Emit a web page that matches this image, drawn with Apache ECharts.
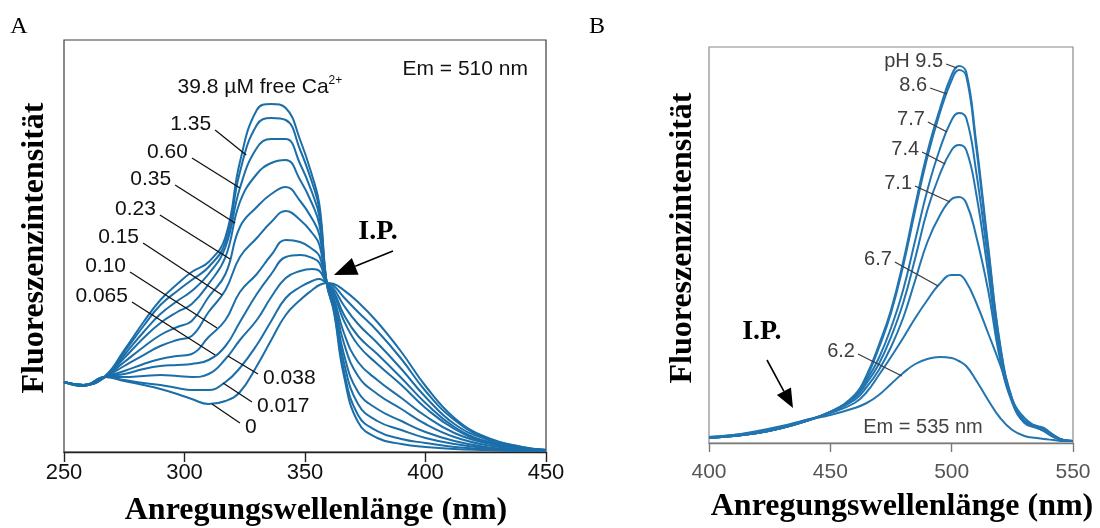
<!DOCTYPE html>
<html>
<head>
<meta charset="utf-8">
<title>Fura-2 Anregungsspektren / SNARF Emissionsspektren</title>
<script src="https://cdn.jsdelivr.net/npm/echarts@6/dist/echarts.min.js"></script>
<style>
  html, body { margin: 0; padding: 0; background: #fff; }
  #chart { width: 1100px; height: 528px; }
</style>
</head>
<body>
<div id="chart"></div>
<script>
// ---------- Panel A: excitation spectra at increasing free Ca2+ (Em = 510 nm) ----------
const lamA = [250, 258, 267, 275, 283, 290, 297, 303, 310, 317, 323, 330, 336, 342, 348, 353, 356, 359, 362, 366, 372, 380, 390, 400, 412, 425, 440, 450];
const ca0    = [70, 66, 75, 71, 67, 63, 58, 53, 48, 51, 60, 86, 112, 137, 152, 162, 167, 169, 168, 162, 150, 130, 100, 66, 34, 15, 5, 2];
const ca0017 = [70, 66, 75, 72, 69, 67, 64, 62, 62, 70, 84, 107, 131, 154, 165, 171, 173, 169, 166, 155, 140, 121, 93, 61, 32, 14, 5, 2];
const ca0038 = [70, 66, 75, 75, 76, 77, 76, 75, 78, 93, 112, 132, 155, 174, 181, 183, 181, 169, 163, 147, 128, 109, 83, 55, 28, 13, 4, 2];
const ca0065 = [70, 67, 75, 78, 83, 86, 87, 88, 92, 106, 130, 158, 178, 195, 197, 194, 189, 169, 160, 138, 116, 98, 74, 49, 25, 11, 4, 2];
const ca010  = [70, 67, 75, 81, 88, 93, 96, 98, 115, 132, 160, 178, 197, 212, 210, 203, 196, 169, 158, 132, 107, 88, 67, 44, 23, 10, 4, 2];
const ca015  = [70, 67, 75, 86, 97, 106, 112, 116, 140, 162, 195, 214, 230, 241, 232, 219, 207, 169, 154, 120, 90, 72, 54, 36, 19, 9, 3, 2];
const ca023  = [70, 67, 75, 90, 105, 117, 125, 131, 155, 178, 225, 245, 258, 265, 251, 233, 217, 169, 151, 110, 76, 58, 43, 28, 15, 7, 3, 1];
const ca035  = [70, 67, 75, 94, 114, 129, 140, 148, 168, 195, 250, 278, 289, 292, 272, 248, 227, 169, 147, 99, 60, 43, 31, 20, 11, 5, 2, 1];
const ca060  = [70, 67, 75, 97, 120, 138, 151, 161, 178, 205, 264, 304, 313, 313, 288, 259, 235, 169, 144, 91, 48, 31, 22, 14, 8, 4, 2, 1];
const ca135  = [70, 67, 75, 100, 126, 147, 161, 172, 185, 210, 280, 327, 334, 332, 302, 269, 242, 169, 142, 83, 37, 21, 13, 9, 5, 3, 1, 1];
const ca398  = [70, 67, 76, 102, 130, 152, 168, 180, 190, 215, 290, 342, 348, 344, 312, 276, 247, 169, 140, 78, 30, 14, 8, 5, 3, 2, 1, 1];
const seriesA = [ca0, ca0017, ca0038, ca0065, ca010, ca015, ca023, ca035, ca060, ca135, ca398];
const namesA  = ['0', '0.017', '0.038', '0.065', '0.10', '0.15', '0.23', '0.35', '0.60', '1.35', '39.8'];
const ticksA  = [250, 300, 350, 400, 450];

// ---------- Panel B: spectra at different pH (Em = 535 nm) ----------
const lamB = [400, 410, 420, 430, 440, 450, 460, 465, 470, 475, 480, 485, 490, 495, 500, 503, 506, 510, 515, 520, 525, 530, 535, 538, 542, 546, 550];
const ph95 = [5, 7, 10, 15, 22, 31, 48, 68, 98, 133, 181, 238, 291, 333, 368, 377, 371, 303, 198, 98, 44, 22, 17, 15, 8, 3, 2];
const ph86 = [5, 7, 10, 15, 22, 31, 47, 66, 95, 130, 177, 233, 286, 329, 363, 373, 367, 298, 195, 96, 43, 22, 17, 14, 8, 3, 2];
const ph77 = [5, 7, 10, 15, 22, 31, 46, 63, 85, 115, 153, 203, 253, 293, 323, 330, 325, 273, 183, 91, 42, 21, 16, 14, 7, 3, 2];
const ph74 = [5, 7, 10, 15, 22, 31, 45, 60, 79, 106, 140, 185, 233, 268, 293, 298, 293, 251, 171, 88, 41, 21, 16, 13, 7, 3, 2];
const ph71 = [5, 7, 10, 15, 22, 31, 43, 56, 73, 96, 125, 163, 201, 227, 244, 246, 240, 208, 153, 83, 40, 20, 15, 12, 6, 3, 2];
const ph67 = [6, 8, 11, 16, 23, 30, 40, 51, 68, 86, 105, 125, 143, 159, 168, 168, 161, 141, 110, 78, 43, 25, 16, 12, 6, 3, 2];
const ph62 = [6, 8, 12, 17, 23, 28, 35, 40, 48, 59, 70, 79, 84, 86, 85, 82, 77, 63, 43, 25, 13, 7, 5, 4, 3, 2, 2];
const seriesB = [ph95, ph86, ph77, ph74, ph71, ph67, ph62];
const namesB  = ['pH 9.5', '8.6', '7.7', '7.4', '7.1', '6.7', '6.2'];
const ticksB  = [400, 450, 500, 550];

// ---------- styling ----------
const BLUE = '#1c6ea9';
const SANS = '"Liberation Sans", Arial, Helvetica, sans-serif';
const SERIF = '"Liberation Serif", "Times New Roman", serif';

// leader lines: from label end to the curve [wavelength, intensity]
const leadersA = [
  { t: '1.35',  from: [312.7, 322], to: [325.6, 297], side: 'left' },
  { t: '0.60',  from: [303.1, 294], to: [323.0, 264], side: 'left' },
  { t: '0.35',  from: [296.1, 267], to: [321.0, 229], side: 'left' },
  { t: '0.23',  from: [289.8, 237], to: [318.9, 193], side: 'left' },
  { t: '0.15',  from: [282.8, 209], to: [315.6, 157], side: 'left' },
  { t: '0.10',  from: [277.4, 180], to: [313.5, 124], side: 'left' },
  { t: '0.065', from: [278.2, 150], to: [312.7, 97],  side: 'left' },
  { t: '0.038', from: [330.5, 78],  to: [318.0, 96],  side: 'right' },
  { t: '0.017', from: [328.0, 50],  to: [316.0, 69],  side: 'right' },
  { t: '0',     from: [323.0, 29],  to: [311.4, 48],  side: 'right' }
];
const leadersB = [
  { t: 'pH 9.5', from: [497.7, 379], to: [502.2, 375] },
  { t: '8.6',    from: [491.1, 355], to: [498.1, 349] },
  { t: '7.7',    from: [490.2, 321], to: [498.1, 311] },
  { t: '7.4',    from: [487.8, 291], to: [497.3, 279] },
  { t: '7.1',    from: [484.9, 257], to: [499.3, 241] },
  { t: '6.7',    from: [476.6, 181], to: [494.4, 157] },
  { t: '6.2',    from: [461.4, 89],  to: [479.5, 67] }
];

function curveSeries(lams, vals, name, gi, color) {
  return {
    type: 'line', name: name, xAxisIndex: gi, yAxisIndex: gi,
    data: lams.map((x, i) => [x, vals[i]]),
    showSymbol: false, smooth: 0.45, silent: true,
    lineStyle: { color: color, width: 2 }, z: 2
  };
}

const series = [];
seriesA.forEach((v, i) => series.push(curveSeries(lamA, v, namesA[i], 0, BLUE)));
seriesB.forEach((v, i) => series.push(curveSeries(lamB, v, namesB[i], 1, '#2275b0')));
series.push({
  type: 'lines', coordinateSystem: 'cartesian2d', xAxisIndex: 0, yAxisIndex: 0, silent: true, z: 3,
  lineStyle: { color: '#111', width: 1.3, opacity: 1 },
  data: leadersA.map(l => ({ coords: [l.from, l.to] }))
});
series.push({
  type: 'lines', coordinateSystem: 'cartesian2d', xAxisIndex: 1, yAxisIndex: 1, silent: true, z: 3,
  lineStyle: { color: '#3a3a3a', width: 1.3, opacity: 1 },
  data: leadersB.map(l => ({ coords: [l.from, l.to] }))
});

function xAxisCfg(gi, ticks, color, labelColor, fontSize, margin, tickLen) {
  return {
    type: 'value', gridIndex: gi,
    min: ticks[0], max: ticks[ticks.length - 1], interval: ticks[1] - ticks[0],
    axisLine: { show: true, lineStyle: { color: color, width: 1.4 } },
    axisTick: { show: true, inside: false, length: tickLen, lineStyle: { color: color, width: 1.4 } },
    axisLabel: { color: labelColor, fontFamily: SANS, fontSize: fontSize, margin: margin },
    splitLine: { show: false }
  };
}

const option = {
  animation: false,
  backgroundColor: '#ffffff',
  grid: [
    { left: 64, top: 40, width: 482, height: 412, show: true, borderColor: '#3c3c3c', borderWidth: 1.2 },
    { left: 709, top: 47, width: 364, height: 396, show: true, borderColor: '#8a8a8a', borderWidth: 1.2 }
  ],
  xAxis: [
    xAxisCfg(0, ticksA, '#222', '#111', 22, 10, 10),
    xAxisCfg(1, ticksB, '#7a7a7a', '#555', 21, 19, 9)
  ],
  yAxis: [
    { type: 'value', gridIndex: 0, min: 0, max: 412, show: false, splitLine: { show: false } },
    { type: 'value', gridIndex: 1, min: 0, max: 396, show: false, splitLine: { show: false } }
  ],
  series: series
};

const chart = echarts.init(document.getElementById('chart'), null, { renderer: 'canvas' });
chart.setOption(option);

// ---------- annotations placed through the axes ----------
const P = (g, p) => chart.convertToPixel({ gridIndex: g }, p);

function text(x, y, str, font, color, align, extra) {
  return Object.assign({
    type: 'text', x: x, y: y, silent: true, z: 10,
    style: { text: str, font: font, fill: color, align: align || 'center', verticalAlign: 'middle' }
  }, extra || {});
}

function arrow(g, from, to, headLen, headW, lw) {
  const a = P(g, from), b = P(g, to);
  const dx = b[0] - a[0], dy = b[1] - a[1], L = Math.hypot(dx, dy);
  const ux = dx / L, uy = dy / L;
  const bx = b[0] - ux * headLen, by = b[1] - uy * headLen;
  const nx = -uy * headW / 2, ny = ux * headW / 2;
  return [
    { type: 'line', silent: true, z: 10, shape: { x1: a[0], y1: a[1], x2: bx, y2: by }, style: { stroke: '#000', lineWidth: lw } },
    { type: 'polygon', silent: true, z: 10, shape: { points: [[b[0], b[1]], [bx + nx, by + ny], [bx - nx, by - ny]] }, style: { fill: '#000' } }
  ];
}

const g = [];
const fA = '21px ' + SANS, fB = '20px ' + SANS;
const titleFont = 'bold 32px ' + SERIF;

// panel letters
g.push(text(19, 27, 'A', '24px ' + SERIF, '#000'));
g.push(text(597, 27, 'B', '24px ' + SERIF, '#000'));

// axis titles
g.push(text(316, 511, 'Anregungswellenlänge (nm)', titleFont, '#000'));
g.push(text(902, 507, 'Anregungswellenlänge (nm)', titleFont, '#000'));
g.push(text(35, 248, 'Fluoreszenzintensität', titleFont, '#000', 'center', { rotation: Math.PI / 2 }));
g.push(text(683, 238, 'Fluoreszenzintensität', titleFont, '#000', 'center', { rotation: Math.PI / 2 }));

// panel A annotations
leadersA.forEach(l => {
  const p = P(0, l.from);
  if (l.side === 'left') g.push(text(p[0] - 4, p[1] - 6, l.t, fA, '#111', 'right'));
  else g.push(text(p[0] + 5, p[1] + 4, l.t, fA, '#111', 'left'));
});
let p = P(0, [331.3, 365]);
g.push({
  type: 'text', x: p[0], y: p[1], silent: true, z: 10,
  style: {
    text: '{a|39.8 µM free Ca}{s|2+}', align: 'center', verticalAlign: 'middle',
    rich: {
      a: { font: fA, fill: '#111', lineHeight: 24 },
      s: { font: '12px ' + SANS, fill: '#111', lineHeight: 12, verticalAlign: 'top' }
    }
  }
});
p = P(0, [442.5, 383]);
g.push(text(p[0], p[1], 'Em = 510 nm', fA, '#111', 'right'));
p = P(0, [380.3, 220]);
g.push(text(p[0], p[1], 'I.P.', 'bold 28px ' + SERIF, '#000'));
arrow(0, [386.5, 201], [362.0, 177], 23, 18, 1.6).forEach(e => g.push(e));

// panel B annotations
leadersB.forEach(l => {
  const q = P(1, l.from);
  g.push(text(q[0] - 3, q[1] - 3, l.t, fB, '#3d3d3d', 'right'));
});
p = P(1, [488.2, 16]);
g.push(text(p[0], p[1], 'Em = 535 nm', fB, '#444'));
p = P(1, [421.8, 111]);
g.push(text(p[0], p[1], 'I.P.', 'bold 28px ' + SERIF, '#000'));
arrow(1, [423.9, 83], [434.6, 35], 19, 16, 1.6).forEach(e => g.push(e));

chart.setOption({ graphic: { elements: g } });
</script>
</body>
</html>
